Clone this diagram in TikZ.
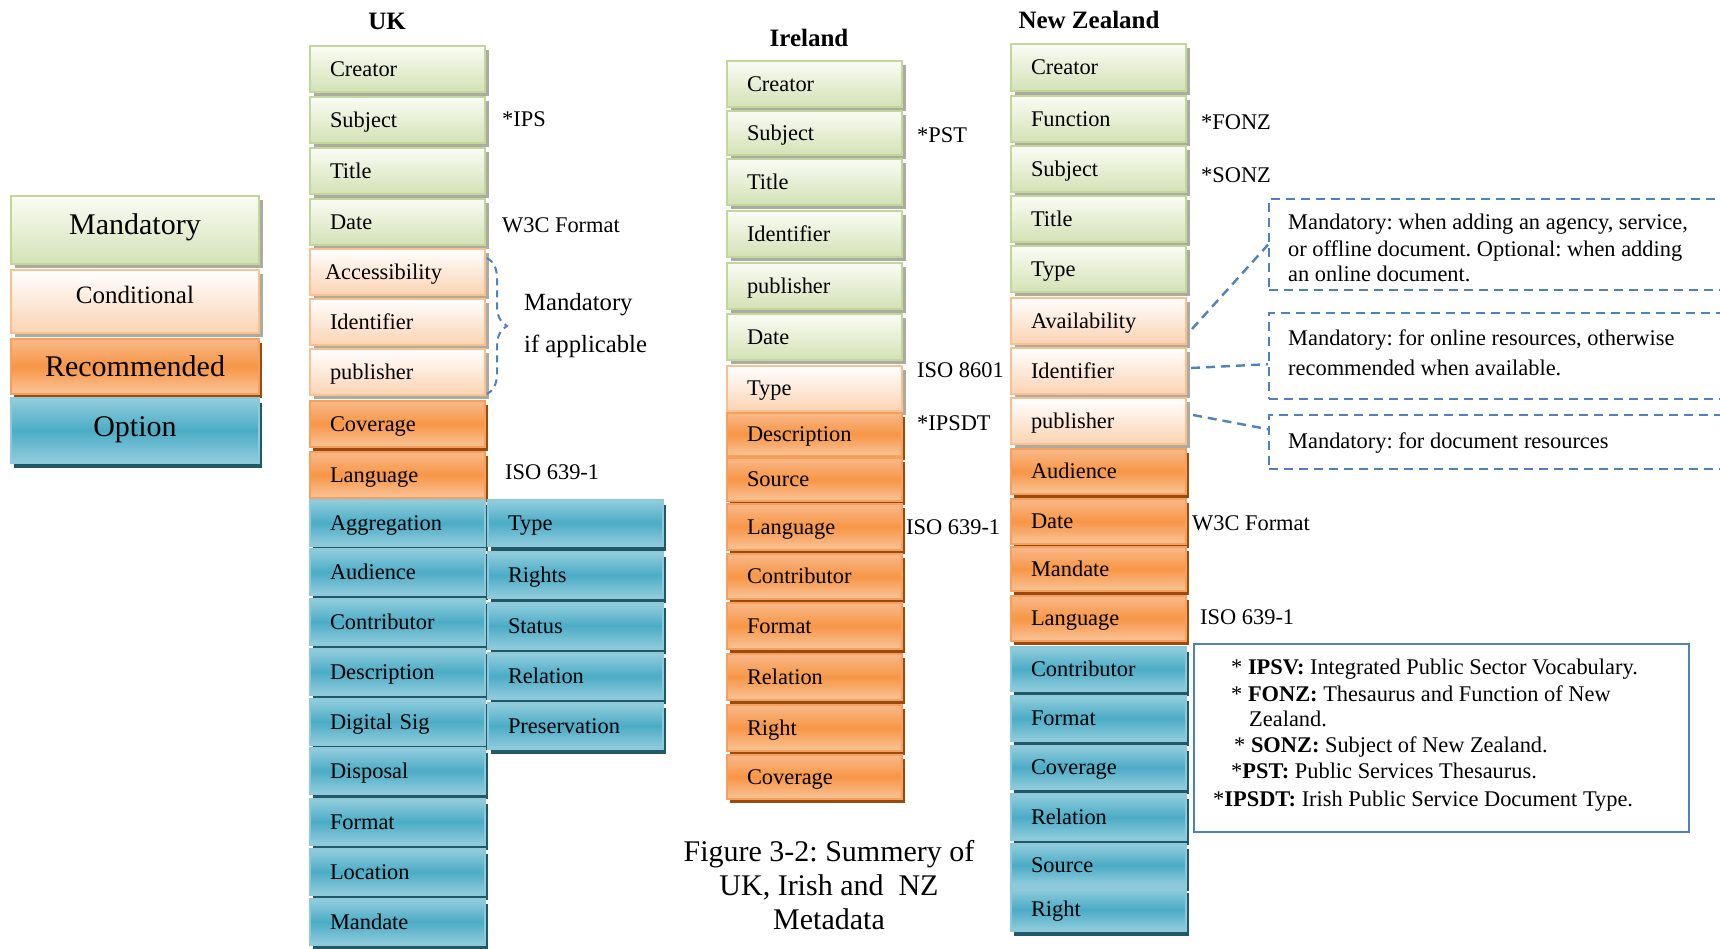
\documentclass[tikz,border=0pt]{standalone}
\usepackage{fontspec}
\setmainfont{Liberation Serif}
\usetikzlibrary{shadows,calc,decorations.pathreplacing}
\frenchspacing

\definecolor{mandTop}{HTML}{FAFCF5}
\definecolor{mandBot}{HTML}{D3E2B5}
\definecolor{mandLine}{HTML}{C3D69B}
\definecolor{condTop}{HTML}{FFFFFF}
\definecolor{condBot}{HTML}{FBD3B3}
\definecolor{condLine}{HTML}{FAC090}
\definecolor{recTop}{HTML}{F9B98A}
\definecolor{recMid}{HTML}{F79646}
\definecolor{recBot}{HTML}{FAC49A}
\definecolor{recLine}{HTML}{F7A05E}
\definecolor{recShade}{HTML}{9A4A0C}
\definecolor{optTop}{HTML}{93CDDD}
\definecolor{optMid}{HTML}{4BACC6}
\definecolor{optBot}{HTML}{93CDDD}
\definecolor{optLine}{HTML}{8DC9DA}
\definecolor{optShade}{HTML}{215968}
\definecolor{greyShade}{HTML}{ABABA0}
\definecolor{noteBlue}{HTML}{4F81BD}

\tikzset{
  txt/.style={font=\fontsize{22.4}{26}\selectfont},
  cell/.style={txt, anchor=north west, minimum height=46pt, text width=135pt,
    inner xsep=20pt, inner ysep=0pt, align=left, text height=14.6pt, text depth=0pt,
    line width=2pt},
  legendcell/.style={anchor=north west, text width=208pt, inner xsep=20pt, inner ysep=0pt,
    align=center, text height=20pt, text depth=0pt, line width=2pt,
    font=\fontsize{30}{34}\selectfont},
  mand/.style={top color=mandTop, bottom color=mandBot, draw=mandLine,
    drop shadow={shadow xshift=4pt, shadow yshift=-4pt, fill=greyShade, opacity=1}},
  cond/.style={top color=condTop, bottom color=condBot, draw=condLine,
    drop shadow={shadow xshift=4pt, shadow yshift=-4pt, fill=greyShade, opacity=1}},
  rec/.style={top color=recTop, bottom color=recBot, middle color=recMid, draw=recLine,
    drop shadow={shadow xshift=3pt, shadow yshift=-4pt, fill=recShade, opacity=1}},
  opt/.style={top color=optTop, bottom color=optBot, middle color=optMid, draw=optLine,
    drop shadow={shadow xshift=3pt, shadow yshift=-5pt, fill=optShade, opacity=1}},
  lbl/.style={txt, anchor=west, inner sep=0pt, text height=14.6pt, text depth=0pt},
  title/.style={font=\bfseries\fontsize{25}{30}\selectfont, inner sep=0pt,
    text height=16.5pt, text depth=0pt},
  caption/.style={font=\fontsize{30}{34}\selectfont, inner sep=0pt,
    text height=20pt, text depth=0pt},
  dashbox/.style={draw=noteBlue, line width=2.4pt, dash pattern=on 9pt off 6pt,
    anchor=north west, inner sep=0pt, minimum width=470pt},
  callout/.style={draw=noteBlue, line width=2.4pt, dash pattern=on 9pt off 6pt},
  notebox/.style={draw=noteBlue, line width=2.4pt, anchor=north west, inner sep=0pt,
    minimum width=495pt, minimum height=188pt},
  bracecall/.style={draw=noteBlue, line width=2pt, dash pattern=on 7pt off 5pt,
    decorate, decoration={brace, amplitude=20pt}},
}

\newcommand\metacell[5][]{\node[cell,#2,#1] (#3) at (#4) {#5};}

\begin{document}
\begin{tikzpicture}[x=1pt,y=-1pt]
\path[use as bounding box, fill=white] (0,0) rectangle (1720,948);

% colour key
\node[legendcell, mand, minimum height=68pt, text depth=12pt] (lgMand) at (10,195) {Mandatory};
\node[legendcell, cond, minimum height=63pt, font=\fontsize{25}{30}\selectfont,
      text height=16.6pt, text depth=12pt] (lgCond) at (10,269) {Conditional};
\node[legendcell, rec, minimum height=55pt] (lgRec) at (10,338) {Recommended};
\node[legendcell, opt, minimum height=65pt, text depth=8pt] (lgOpt) at (10,397) {Option};

% UK
\node[title] (ukTitle) at (387,21) {UK};
\metacell{mand}{ukCreator}{309,45}{Creator}
\metacell{mand}{ukSubject}{309,96}{Subject}
\metacell{mand}{ukTitleEl}{309,147}{Title}
\metacell{mand}{ukDate}{309,198}{Date}
\metacell[inner xsep=15pt, text width=145pt]{cond}{ukAccess}{309,248}{Accessibility}
\metacell{cond}{ukIdent}{309,298}{Identifier}
\metacell{cond}{ukPub}{309,348}{publisher}
\metacell{rec}{ukCoverage}{309,400}{Coverage}
\metacell{rec}{ukLang}{309,451}{Language}
\metacell{opt}{ukAggr}{309,499}{Aggregation}
\metacell{opt}{ukAudience}{309,548}{Audience}
\metacell{opt}{ukContrib}{309,598}{Contributor}
\metacell{opt}{ukDescr}{309,648}{Description}
\metacell{opt}{ukDigSig}{309,698}{Digital Sig}
\metacell{opt}{ukDisposal}{309,747}{Disposal}
\metacell{opt}{ukFormat}{309,798}{Format}
\metacell{opt}{ukLocation}{309,848}{Location}
\metacell{opt}{ukMandate}{309,898}{Mandate}
\metacell{opt}{ukType}{487,499}{Type}
\metacell{opt}{ukRights}{487,551}{Rights}
\metacell{opt}{ukStatus}{487,602}{Status}
\metacell{opt}{ukRelation}{487,652}{Relation}
\metacell{opt}{ukPreserv}{487,702}{Preservation}

\node[lbl] (ukIPS) at (502,119) {*IPS};
\node[lbl] (ukW3C) at (502,225) {W3C Format};
\node[lbl] (ukISO) at (505,472) {ISO 639-1};
\draw[bracecall] ($(ukAccess.north east)+(1,10)$) -- ($(ukPub.south east)+(1,-2)$);
\node[lbl, font=\fontsize{24.7}{30}\selectfont, text height=16.3pt] (ukCondA) at (524,302) {Mandatory};
\node[lbl, font=\fontsize{24.7}{30}\selectfont, text height=16.3pt] (ukCondB) at (524,344) {if applicable};

% Ireland
\node[title] (ieTitle) at (809,38) {Ireland};
\metacell{mand}{ieCreator}{726,60}{Creator}
\metacell[minimum height=44pt]{mand}{ieSubject}{726,110}{Subject}
\metacell{mand}{ieTitleEl}{726,158}{Title}
\metacell{mand}{ieIdent}{726,210}{Identifier}
\metacell{mand}{iePub}{726,262}{publisher}
\metacell{mand}{ieDate}{726,313}{Date}
\metacell[minimum height=45pt]{cond}{ieType}{726,365}{Type}
\metacell[minimum height=43pt]{rec}{ieDescr}{726,412}{Description}
\metacell[minimum height=43pt]{rec}{ieSource}{726,457}{Source}
\metacell{rec}{ieLang}{726,503}{Language}
\metacell[minimum height=45pt]{rec}{ieContrib}{726,553}{Contributor}
\metacell{rec}{ieFormat}{726,602}{Format}
\metacell{rec}{ieRelation}{726,653}{Relation}
\metacell{rec}{ieRight}{726,704}{Right}
\metacell[minimum height=44pt]{rec}{ieCoverage}{726,754}{Coverage}

\node[lbl] (iePST) at (917,135) {*PST};
\node[lbl] (ieISO8601) at (917,370) {ISO 8601};
\node[lbl] (ieIPSDT) at (917,423) {*IPSDT};
\node[lbl] (ieISO) at (906,527) {ISO 639-1};

% New Zealand
\node[title] (nzTitle) at (1089,20) {New Zealand};
\metacell[minimum height=47pt]{mand}{nzCreator}{1010,43}{Creator}
\metacell{mand}{nzFunction}{1010,95}{Function}
\metacell{mand}{nzSubject}{1010,145}{Subject}
\metacell{mand}{nzTitleEl}{1010,195}{Title}
\metacell{mand}{nzType}{1010,245}{Type}
\metacell{cond}{nzAvail}{1010,297}{Availability}
\metacell{cond}{nzIdent}{1010,347}{Identifier}
\metacell{cond}{nzPub}{1010,397}{publisher}
\metacell[minimum height=45pt]{rec}{nzAudience}{1010,448}{Audience}
\metacell[minimum height=45pt]{rec}{nzDate}{1010,498}{Date}
\metacell[minimum height=44pt]{rec}{nzMandate}{1010,546}{Mandate}
\metacell[minimum height=45pt]{rec}{nzLang}{1010,595}{Language}
\metacell[minimum height=44pt]{opt}{nzContrib}{1010,646}{Contributor}
\metacell[minimum height=45pt]{opt}{nzFormat}{1010,695}{Format}
\metacell[minimum height=43pt]{opt}{nzCoverage}{1010,745}{Coverage}
\metacell{opt}{nzRelation}{1010,793}{Relation}
\metacell[minimum height=42pt]{opt}{nzSource}{1010,843}{Source}
\metacell[minimum height=43pt]{opt}{nzRight}{1010,887}{Right}

\node[lbl] (nzFONZ) at (1201,122) {*FONZ};
\node[lbl] (nzSONZ) at (1201,175) {*SONZ};
\node[lbl] (nzW3C) at (1192,523) {W3C Format};
\node[lbl] (nzISO) at (1200,617) {ISO 639-1};

% notes on the conditional NZ elements
\node[dashbox, minimum height=91pt] (noteAvail) at (1268,198) {};
\node[dashbox, minimum height=86pt] (noteIdent) at (1268,312) {};
\node[dashbox, minimum height=54pt] (notePub) at (1268,414) {};
\node[lbl] (noteAvailA) at (1288,222) {Mandatory: when adding an agency, service,};
\node[lbl] (noteAvailB) at (1288,249) {or offline document. Optional: when adding};
\node[lbl] (noteAvailC) at (1288,274) {an online document.};
\node[lbl] (noteIdentA) at (1288,338) {Mandatory: for online resources, otherwise};
\node[lbl] (noteIdentB) at (1288,368) {recommended when available.};
\node[lbl] (notePubA) at (1288,441) {Mandatory: for document resources};
\draw[callout] ($(nzAvail.east)+(5,8)$) -- (noteAvail.west);
\draw[callout] ($(nzIdent.east)+(4,-3)$) -- ($(noteIdent.west)+(0,8)$);
\draw[callout] ($(nzPub.east)+(6,-6)$) -- ($(notePub.west)+(0,-13)$);

% vocabulary key
\node[notebox] (vocab) at (1193,643) {};
\node[lbl] (vocabA) at (1231,667) {* \textbf{IPSV:} Integrated Public Sector Vocabulary.};
\node[lbl] (vocabB) at (1231,694) {* \textbf{FONZ:} Thesaurus and Function of New};
\node[lbl] (vocabC) at (1249,719) {Zealand.};
\node[lbl] (vocabD) at (1234,745) {* \textbf{SONZ:} Subject of New Zealand.};
\node[lbl] (vocabE) at (1231,771) {*\textbf{PST:} Public Services Thesaurus.};
\node[lbl] (vocabF) at (1213,799) {*\textbf{IPSDT:} Irish Public Service Document Type.};

% caption
\node[caption] (capA) at (829,851) {Figure 3-2: Summery of};
\node[caption] (capB) at (829,885) {UK, Irish and~ NZ};
\node[caption] (capC) at (829,919) {Metadata};
\end{tikzpicture}
\end{document}
